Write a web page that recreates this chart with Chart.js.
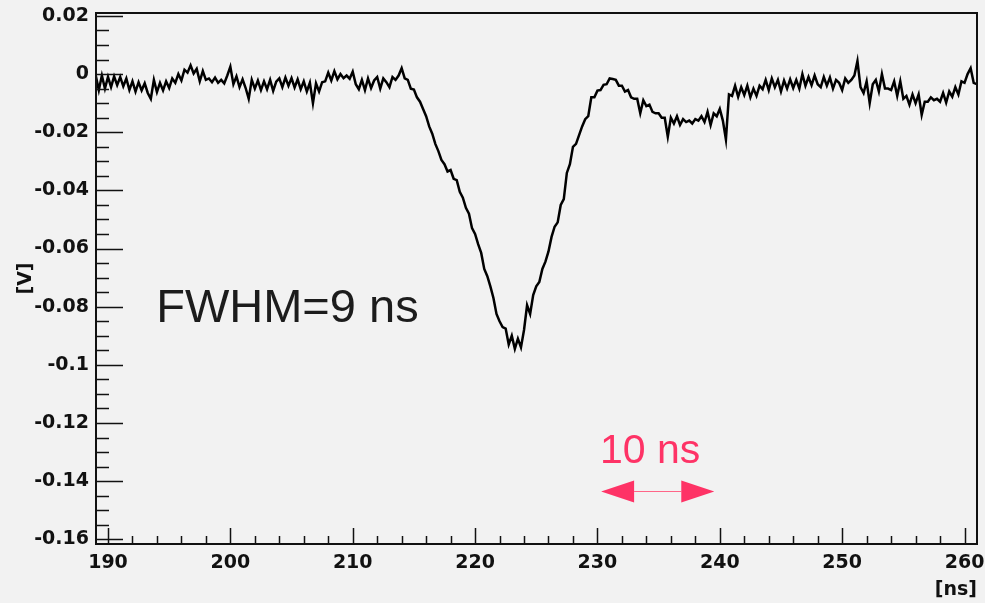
<!DOCTYPE html>
<html>
<head>
<meta charset="utf-8">
<script src="https://cdn.jsdelivr.net/npm/chart.js@4"></script>
<style>
  html, body { margin: 0; padding: 0; background: #f2f2f2; }
  canvas { display: block; }
</style>
</head>
<body>
<canvas id="scope" width="985" height="603"></canvas>
<script>
// sampling of the trace
const t0 = 189;
const dt = 0.25;

// voltage, in mV, one value every 0.25 ns starting at 189 ns
const voltage_mV = [
  -0.5, -5.5, -0.5, -5.0, -1.0, -4.5, -0.8, -3.8, -1.0, -4.2, -1.5, -5.5,
  -2.5, -6.0, -2.8, -5.6, -3.2, -6.5, -8.5, -2.0, -6.2, -3.0, -5.6, -2.5,
  -4.8, -1.5, -3.0, 0.0, -2.2, 1.5, 0.5, 3.0, 0.2, 1.8, -2.5, 1.0,
  -2.0, -1.5, -2.8, -1.2, -3.0, -2.0, -3.2, -0.5, 2.5, -3.5, -0.8, -4.5,
  -1.8, -4.8, -8.5, -2.0, -5.0, -2.2, -5.5, -2.5, -5.2, -2.0, -5.8, -2.6,
  -1.5, -4.5, -1.2, -4.0, -1.4, -4.6, -1.8, -5.2, -2.5, -6.0, -3.0, -10.0,
  -3.2, -6.0, -2.8, -2.5, 0.5, -2.2, 1.0, -1.8, 0.0, -1.4, -0.5, -1.6,
  0.8, -3.5, -5.2, -2.0, -5.5, -1.5, -4.8, -2.2, -1.0, -5.0, -1.5, -2.8,
  -4.5, -1.0, -2.0, -0.5, 2.0, -1.5, -2.0, -5.0, -5.3, -8.0, -9.5, -12.0,
  -14.5, -18.0, -20.5, -24.0, -26.5, -29.5, -31.0, -33.5, -33.0, -36.0, -36.5, -40.5,
  -42.5, -46.0, -48.0, -53.0, -55.0, -58.5, -61.5, -67.0, -69.5, -73.0, -77.0, -82.5,
  -85.0, -87.0, -87.5, -93.0, -90.0, -94.5, -91.0, -94.0, -88.0, -79.5, -82.5, -76.0,
  -73.0, -71.5, -67.0, -64.5, -61.0, -56.0, -52.5, -51.0, -45.0, -43.0, -34.0, -31.0,
  -25.0, -24.0, -21.0, -18.0, -15.5, -14.5, -8.0, -8.0, -5.7, -5.5, -3.7, -3.5,
  -1.5, -1.7, -2.0, -4.0, -4.0, -6.0, -5.5, -8.0, -8.5, -8.5, -13.5, -9.0,
  -11.0, -10.5, -13.0, -13.5, -13.5, -15.0, -15.0, -21.5, -15.0, -17.0, -14.5, -17.5,
  -15.5, -16.5, -16.0, -17.0, -15.5, -16.0, -14.5, -16.5, -13.0, -17.5, -13.5, -14.5,
  -12.0, -16.0, -22.5, -7.0, -7.5, -4.0, -7.8, -4.5, -7.2, -4.0, -8.0, -5.0,
  -7.5, -4.0, -5.2, -2.0, -5.5, -1.5, -4.5, -2.0, -6.0, -2.2, -5.0, -1.8,
  -4.8, -2.0, -5.0, 0.0, -4.0, -1.0, -3.8, -0.5, -3.5, -4.5, -1.0, -4.0,
  -1.2, -5.0, -2.0, -3.0, -5.5, -1.5, -3.0, -2.0, -0.5, 4.5, -4.5, -6.5,
  -2.5, -10.0, -3.5, -2.0, -6.0, 0.0, -5.0, -5.0, -5.5, -2.5, -7.5, -2.5,
  -8.5, -7.5, -10.5, -7.0, -10.0, -7.0, -14.0, -9.5, -9.5, -8.0, -9.0, -8.5,
  -9.5, -6.5, -9.8, -6.0, -7.8, -4.5, -7.0, -2.5, -3.0, 0.0, 2.0, -3.0,
  -3.5
];

// axes
const xRange = [189.02, 261.02];
const yRange = [-0.1616, 0.021];
const xTickValues = [190, 200, 210, 220, 230, 240, 250, 260];
const yTickValues = [0.02, 0, -0.02, -0.04, -0.06, -0.08, -0.1, -0.12, -0.14, -0.16];

// annotations (data coordinates)
const fwhmText = { text: "FWHM=9 ns", x: 193.94, y: -0.0853 };
const scaleText = { text: "10 ns", x: 230.2, y: -0.1338 };
const scaleArrow = { from: 230.3, to: 239.55, y: -0.1434 };

const points = voltage_mV.map((v, i) => ({ x: t0 + i * dt, y: v / 1000 }));

const bg = {
  id: "bg",
  beforeDraw(chart) {
    const ctx = chart.ctx;
    ctx.save();
    ctx.fillStyle = "#f2f2f2";
    ctx.fillRect(0, 0, chart.width, chart.height);
    ctx.restore();
  }
};

// ROOT style frame with ticks pointing inwards
const rootFrame = {
  id: "rootFrame",
  afterDatasetsDraw(chart) {
    const ctx = chart.ctx;
    const a = chart.chartArea;
    const xs = chart.scales.x, ys = chart.scales.y;
    ctx.save();
    ctx.strokeStyle = "#111";
    ctx.lineWidth = 1.5;
    ctx.beginPath();
    for (let v = 190; v <= 260; v += 2) {
      const px = Math.round(xs.getPixelForValue(v)) + 0.5;
      const len = v % 10 === 0 ? 16 : 8;
      ctx.moveTo(px, a.bottom);
      ctx.lineTo(px, a.bottom - len);
    }
    for (let k = -32; k <= 4; k++) {
      const py = Math.round(ys.getPixelForValue(k * 0.005)) + 0.5;
      const len = k % 4 === 0 ? 27 : 13;
      ctx.moveTo(a.left, py);
      ctx.lineTo(a.left + len, py);
    }
    ctx.stroke();
    ctx.lineWidth = 2;
    ctx.strokeRect(a.left, a.top, a.right - a.left, a.bottom - a.top);
    ctx.restore();
  }
};

const notes = {
  id: "notes",
  afterDraw(chart) {
    const ctx = chart.ctx;
    const xs = chart.scales.x, ys = chart.scales.y;
    ctx.save();
    ctx.textBaseline = "alphabetic";
    ctx.textAlign = "left";
    ctx.fillStyle = "#1c1c1c";
    ctx.font = "47px 'Liberation Sans', Arial, sans-serif";
    ctx.fillText(fwhmText.text, xs.getPixelForValue(fwhmText.x), ys.getPixelForValue(fwhmText.y));

    ctx.fillStyle = "#fe3366";
    ctx.font = "41px 'Liberation Sans', Arial, sans-serif";
    ctx.fillText(scaleText.text, xs.getPixelForValue(scaleText.x), ys.getPixelForValue(scaleText.y));

    const x1 = xs.getPixelForValue(scaleArrow.from);
    const x2 = xs.getPixelForValue(scaleArrow.to);
    const y = Math.round(ys.getPixelForValue(scaleArrow.y)) + 0.5;
    const head = 33, half = 11;
    ctx.strokeStyle = "#ff6688";
    ctx.lineWidth = 1;
    ctx.beginPath();
    ctx.moveTo(x1 + head, y);
    ctx.lineTo(x2 - head, y);
    ctx.stroke();
    ctx.beginPath();
    ctx.moveTo(x1, y);
    ctx.lineTo(x1 + head, y - half);
    ctx.lineTo(x1 + head, y + half);
    ctx.closePath();
    ctx.moveTo(x2, y);
    ctx.lineTo(x2 - head, y - half);
    ctx.lineTo(x2 - head, y + half);
    ctx.closePath();
    ctx.fill();
    ctx.restore();
  }
};

const tickFont = { family: "'DejaVu Sans', sans-serif", size: 19, weight: "bold" };

function noEdgePadding(s) {
  s.paddingTop = 0;
  s.paddingBottom = 0;
  s.paddingLeft = 0;
  s.paddingRight = 0;
}

new Chart(document.getElementById("scope"), {
  type: "line",
  data: {
    datasets: [{
      data: points,
      borderColor: "#000",
      borderWidth: 2.5,
      pointRadius: 0,
      tension: 0,
      fill: false
    }]
  },
  options: {
    responsive: false,
    animation: false,
    devicePixelRatio: 1,
    layout: { padding: { top: 13, right: 8, left: 0, bottom: 0 } },
    plugins: { legend: { display: false }, tooltip: { enabled: false } },
    scales: {
      x: {
        type: "linear",
        min: xRange[0],
        max: xRange[1],
        afterBuildTicks: s => { s.ticks = xTickValues.map(v => ({ value: v })); },
        afterFit: s => { s.height = 59; noEdgePadding(s); },
        grid: { display: false, drawTicks: false },
        border: { display: false },
        ticks: { font: tickFont, color: "#111", padding: 8, maxRotation: 0, autoSkip: false },
        title: { display: true, text: "[ns]", align: "end", font: tickFont, color: "#111", padding: { top: 0, bottom: 2 } }
      },
      y: {
        type: "linear",
        min: yRange[0],
        max: yRange[1],
        afterBuildTicks: s => { s.ticks = yTickValues.map(v => ({ value: v })); },
        afterFit: s => { s.width = 96; noEdgePadding(s); },
        grid: { display: false, drawTicks: false },
        border: { display: false },
        ticks: {
          font: tickFont, color: "#111", padding: 7, autoSkip: false,
          callback: v => String(Number(v.toFixed(2)))
        },
        title: { display: true, text: "[V]", font: tickFont, color: "#111", padding: { top: 15, bottom: 0 } }
      }
    }
  },
  plugins: [bg, rootFrame, notes]
});
</script>
</body>
</html>
